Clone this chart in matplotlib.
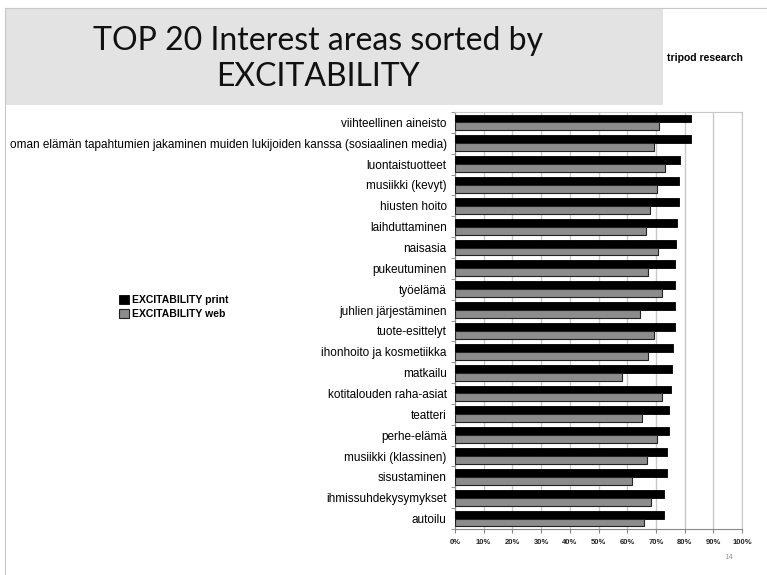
import matplotlib.pyplot as plt
import numpy as np
from matplotlib.patches import Rectangle

# Data
categories = [
    "viihteellinen aineisto",
    "oman elämän tapahtumien jakaminen muiden lukijoiden kanssa (sosiaalinen media)",
    "luontaistuotteet",
    "musiikki (kevyt)",
    "hiusten hoito",
    "laihduttaminen",
    "naisasia",
    "pukeutuminen",
    "työelämä",
    "juhlien järjestäminen",
    "tuote-esittelyt",
    "ihonhoito ja kosmetiikka",
    "matkailu",
    "kotitalouden raha-asiat",
    "teatteri",
    "perhe-elämä",
    "musiikki (klassinen)",
    "sisustaminen",
    "ihmissuhdekysymykset",
    "autoilu",
]
excit_print = [82.2, 82.2, 78.4, 78.0, 78.0, 77.5, 77.0, 76.7, 76.7, 76.7,
               76.7, 76.1, 75.7, 75.2, 74.7, 74.7, 73.8, 73.8, 72.8, 72.8]
excit_web = [71.2, 69.3, 73.2, 70.3, 67.8, 66.4, 70.7, 67.4, 72.2, 64.5,
             69.3, 67.4, 58.3, 72.2, 65.0, 70.3, 67.0, 61.7, 68.3, 66.0]
x_ticks = list(range(0, 101, 10))

BLACK = "#000000"
GREY = "#8c8c8c"

fig = plt.figure(figsize=(7.67, 5.75), dpi=100)

# slide frame + grey title box
fig.add_artist(plt.Line2D([5 / 767, 5 / 767], [0, 1 - 8 / 575], color="#c8c8c8", lw=0.8))
fig.add_artist(plt.Line2D([5 / 767, 1], [1 - 8 / 575, 1 - 8 / 575], color="#c8c8c8", lw=0.8))
fig.add_artist(Rectangle((5 / 767, 1 - 105 / 575), 658 / 767, 97 / 575,
                         transform=fig.transFigure, facecolor="#e3e3e3", edgecolor="none"))
fig.text(318 / 767, 1 - 59 / 575, "TOP 20 Interest areas sorted by\nEXCITABILITY",
         ha="center", va="center", fontsize=23, family="Lato",
         color="#111111", linespacing=1.25)
fig.text(667 / 767, 1 - 58 / 575, "tripod research", ha="left", va="center",
         fontsize=7.5, fontweight="bold", family="Liberation Sans")
fig.text(729 / 767, 1 - 557 / 575, "14", ha="center", va="center",
         fontsize=5, color="#999999")

ax = fig.add_axes([455 / 767, 1 - 529 / 575, 287 / 767, 417 / 575])

y = np.arange(len(categories))
h = 0.38
ax.barh(y - h / 2, excit_print, height=h, color=BLACK, edgecolor=BLACK,
        linewidth=0.6, label="EXCITABILITY print", zorder=3)
ax.barh(y + h / 2, excit_web, height=h, color=GREY, edgecolor="#222222",
        linewidth=0.8, label="EXCITABILITY web", zorder=3)

ax.set_ylim(len(categories) - 0.5, -0.5)
ax.set_xlim(0, 100)
ax.set_yticks(y)
ax.set_yticklabels(categories, fontsize=8.5, family="Liberation Sans",
                   color="#000000")
ax.set_yticks(np.arange(-0.5, len(categories), 1), minor=True)
ax.tick_params(axis="y", which="major", length=0, pad=6)
ax.tick_params(axis="y", which="minor", length=3, color="#888888")
ax.set_xticks(x_ticks)
ax.set_xticklabels([f"{t}%" for t in x_ticks], fontsize=5.5, family="Liberation Sans",
                   fontweight="bold", color="#222222")
ax.tick_params(axis="x", length=3, color="#888888", pad=4)
ax.grid(axis="x", color="#c8c8c8", lw=1.0, zorder=0)

for side in ["top", "right"]:
    ax.spines[side].set_color("#c8c8c8")
for side in ["left", "bottom"]:
    ax.spines[side].set_color("#888888")

fig.legend(loc="center left", bbox_to_anchor=(110 / 767, 1 - 307 / 575),
           frameon=False, handlelength=0.9, handleheight=0.9,
           handletextpad=0.3, labelspacing=0.35,
           prop={"family": "Liberation Sans", "weight": "bold", "size": 7.5})

fig.savefig("out.png", dpi=100)
